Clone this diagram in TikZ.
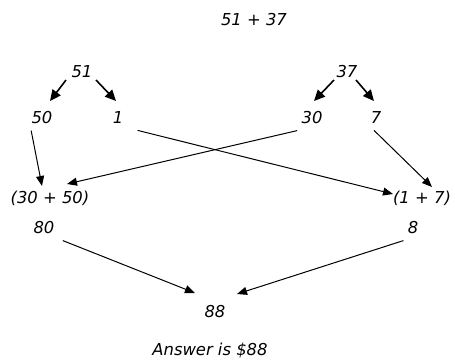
\documentclass[tikz,border=0pt]{standalone}
\usepackage{fontspec}
\setmainfont{DejaVu Sans}
\usetikzlibrary{arrows.meta,positioning}
\tikzset{
  num/.style={font=\fontsize{8.2}{10}\selectfont\itshape,inner sep=1pt},
  fl/.style={-{Triangle[length=5pt,width=4pt]},line width=0.5pt},
  fls/.style={-{Triangle[length=5.5pt,width=5pt]},line width=0.8pt},
}
\begin{document}
\begin{tikzpicture}[x=0.5pt,y=-0.5pt]
  \useasboundingbox (0,0) rectangle (455,360);
  % sum and split
  \node[num] (som) at (254,20) {51 + 37};
  \node[num] (a) at (82,72) {51};
  \node[num] (b) at (347,72) {37};
  \node[num] (a1) at (42,118) {50};
  \node[num] (a2) at (118,118) {1};
  \node[num] (b1) at (312,118) {30};
  \node[num] (b2) at (376,118) {7};
  % regroup
  \node[num] (dix) at (50,198) {(30 + 50)};
  \node[num] (un) at (422,198) {(1 + 7)};
  \node[num] (r80) at (44,228) {80};
  \node[num] (r8) at (413,228) {8};
  \node[num] (tot) at (215,312) {88};
  \node[num] (rep) at (210,350) {Answer is \$88};
  \coordinate (a1t) at (50,101);
  \coordinate (a2t) at (116,101);
  \coordinate (b1t) at (314,101);
  \coordinate (b2t) at (374,101);
  \coordinate (dixt) at (67,184);
  \coordinate (unt) at (393,194);
  \draw[fls] (66,80) -- (a1t);
  \draw[fls] (96,80) -- (a2t);
  \draw[fls] (334,80) -- (b1t);
  \draw[fls] (356,80) -- (b2t);
  \draw[fl] (a1.south west) ++(2,4) -- (42,186);
  \draw[fl] (a2.south east) ++(12,4) -- (unt);
  \draw[fl] (b1.south west) ++(-2,4) -- (dixt);
  \draw[fl] (b2.south) ++(-2,4) -- (432,187);
  \draw[fl] (r80.south east) ++(6,4) -- (195,293);
  \draw[fl] (r8.south west) ++(-2,4) -- (237,294);
\end{tikzpicture}
\end{document}
